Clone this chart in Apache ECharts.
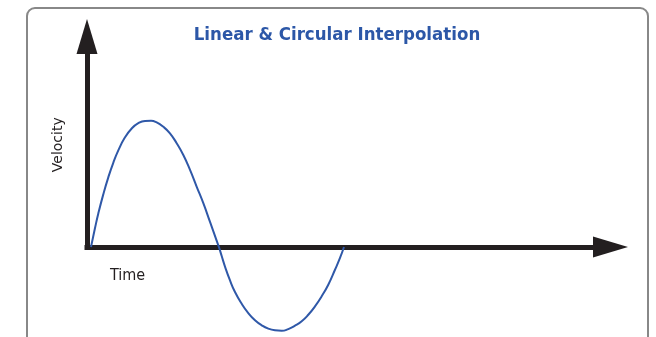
<!DOCTYPE html>
<html>
<head>
<meta charset="utf-8">
<style>
  html, body { margin: 0; padding: 0; background: #ffffff; }
  #chart { width: 656px; height: 337px; }
</style>
<script src="https://cdn.jsdelivr.net/npm/echarts@6/dist/echarts.min.js"></script>
</head>
<body>
<div id="chart"></div>
<script>
// Data (time and velocity in arbitrary units)
var titleText = 'Linear & Circular Interpolation';
var xAxisName = 'Time';
var yAxisName = 'Velocity';
var timeVals = [0.076, 0.153, 0.216, 0.311, 0.407, 0.502, 0.598, 0.726, 0.854, 0.980, 1.108, 1.223,
                1.331, 1.458, 1.585, 1.713, 1.840, 1.968, 2.096, 2.222, 2.350, 2.478, 2.520,
                2.573, 2.636, 2.732, 2.827, 2.955, 3.081, 3.209, 3.337, 3.463, 3.591, 3.719,
                3.845, 3.973, 4.101, 4.227, 4.355, 4.483, 4.609, 4.737, 4.833, 4.909];
var velocityVals = [0.00, 0.90, 1.59, 2.50, 3.31, 4.00, 4.59, 5.21, 5.63, 5.88, 5.99, 6.00,
                    5.92, 5.71, 5.40, 4.93, 4.37, 3.66, 2.86, 2.08, 1.19, 0.29, 0.00,
                    -0.43, -0.93, -1.59, -2.14, -2.70, -3.14, -3.48, -3.72, -3.88, -3.96, -3.98,
                    -3.90, -3.74, -3.53, -3.22, -2.82, -2.34, -1.79, -1.08, -0.52, 0.00];
var timeRange = [0, 10];
var velocityRange = [0, 10];

var seriesData = timeVals.map(function (t, i) { return [t, velocityVals[i]]; });

var chart = echarts.init(document.getElementById('chart'), null, { renderer: 'canvas' });
var axisColor = '#231f20';
var condensed = '"DejaVu Sans Condensed", "Liberation Sans Narrow", "DejaVu Sans", sans-serif';

chart.setOption({
  backgroundColor: '#ffffff',
  animation: false,
  title: {
    text: titleText,
    left: 337,
    top: 26,
    padding: 0,
    textAlign: 'center',
    textVerticalAlign: 'top',
    textStyle: {
      fontFamily: condensed,
      fontWeight: 'bold',
      fontSize: 18.5,
      color: '#2c57a7'
    }
  },
  graphic: [{
    type: 'rect',
    z: -1,
    shape: { x: 27, y: 8, width: 621, height: 400, r: 8 },
    style: { fill: 'none', stroke: '#888888', lineWidth: 2 },
    silent: true
  }],
  grid: {
    left: 87,
    right: 45.5,
    top: 36.5,
    bottom: 90,
    outerBoundsMode: 'none',
    containLabel: false
  },
  xAxis: {
    type: 'value',
    min: timeRange[0],
    max: timeRange[1],
    name: xAxisName,
    nameLocation: 'start',
    nameGap: -23,
    nameTextStyle: {
      fontFamily: condensed,
      fontSize: 16,
      color: '#231f20',
      align: 'left',
      verticalAlign: 'top',
      padding: [21, 0, 0, 0]
    },
    axisLine: {
      show: true,
      onZero: false,
      symbol: ['none', 'triangle'],
      symbolSize: [21, 35],
      lineStyle: { color: axisColor, width: 5, cap: 'square' }
    },
    axisTick: { show: false },
    axisLabel: { show: false },
    splitLine: { show: false }
  },
  yAxis: {
    type: 'value',
    min: velocityRange[0],
    max: velocityRange[1],
    name: yAxisName,
    nameLocation: 'middle',
    nameRotate: 90,
    nameGap: 22,
    nameTextStyle: {
      fontFamily: '"DejaVu Sans", sans-serif',
      fontSize: 14,
      color: '#231f20',
      padding: [0, 6, 0, 0]
    },
    axisLine: {
      show: true,
      onZero: false,
      symbol: ['none', 'triangle'],
      symbolSize: [21, 35],
      lineStyle: { color: axisColor, width: 5 }
    },
    axisTick: { show: false },
    axisLabel: { show: false },
    splitLine: { show: false }
  },
  series: [{
    type: 'line',
    data: seriesData,
    smooth: true,
    clip: false,
    symbol: 'none',
    z: 1,
    lineStyle: { color: '#2f58a8', width: 2 }
  }]
});
</script>
</body>
</html>
